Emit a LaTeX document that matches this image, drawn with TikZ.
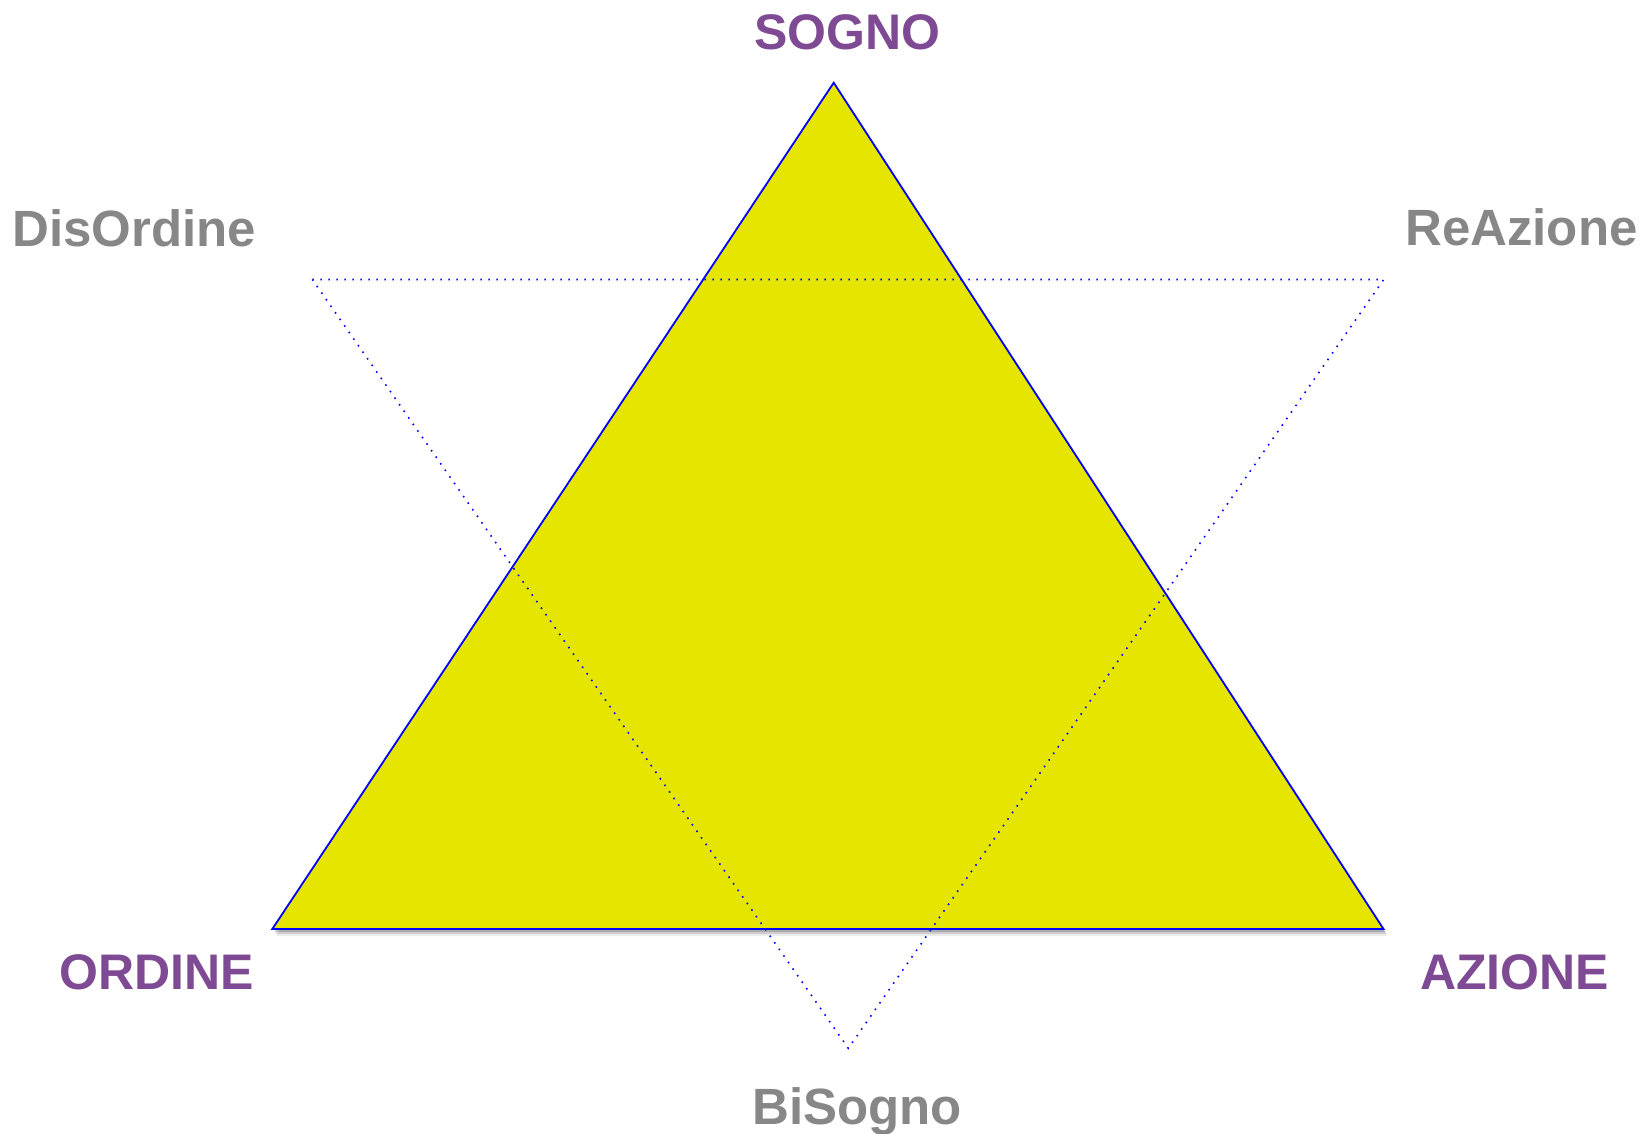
\documentclass[tikz,border=0pt]{standalone}
\usepackage{fontspec}
\setmainfont{Liberation Sans}
\definecolor{fillyellow}{RGB}{229,229,0}
\definecolor{edgeblue}{RGB}{0,0,255}
\definecolor{labelpurple}{RGB}{127,74,148}
\definecolor{labelgray}{RGB}{135,135,135}
\tikzset{
  mainlabel/.style={inner sep=0pt, anchor=base west, text=labelpurple, font=\fontsize{50}{56}\selectfont\bfseries},
  sidelabel/.style={inner sep=0pt, anchor=base west, text=labelgray, font=\fontsize{51}{57}\selectfont\bfseries},
  dotline/.style={draw=edgeblue, line width=1.6pt, dash pattern=on 1.6pt off 6.4pt},
}
\begin{document}
\begin{tikzpicture}[x=1pt,y=-1pt]
\useasboundingbox (0,0) rectangle (1641,1134);
% main triangle corners
\coordinate (apex) at (833.7,82.7);
\coordinate (bl) at (272.3,929);
\coordinate (br) at (1383.5,929);
% dotted triangle corners
\coordinate (dtl) at (312.3,279.5);
\coordinate (dtr) at (1383.7,279.5);
\coordinate (dbot) at (848.3,1048.3);
% shadow
\fill[black, opacity=0.18] ([shift={(2,3)}]apex) -- ([shift={(2,3)}]bl) -- ([shift={(2,3)}]br) -- cycle;
\fill[black, opacity=0.12] ([shift={(3,5)}]apex) -- ([shift={(3,5)}]bl) -- ([shift={(3,5)}]br) -- cycle;
\fill[black, opacity=0.07] ([shift={(4,7)}]apex) -- ([shift={(4,7)}]bl) -- ([shift={(4,7)}]br) -- cycle;
% main triangle
\filldraw[fill=fillyellow, draw=edgeblue, line width=1.8pt, line join=miter] (apex) -- (bl) -- (br) -- cycle;
% dotted triangle
\draw[dotline] (dtl) -- (dtr) -- (dbot) -- cycle;
% labels
\node[mainlabel, anchor=base] (sogno) at (847.5,50) {SOGNO};
\node[mainlabel] (ordine) at (59,989) {ORDINE};
\node[mainlabel] (azione) at (1420,989) {AZIONE};
\node[sidelabel] (disordine) at (12,247) {DisOrdine};
\node[sidelabel] (reazione) at (1405,245) {ReAzione};
\node[sidelabel] (bisogno) at (752,1124) {BiSogno};
\end{tikzpicture}
\end{document}
